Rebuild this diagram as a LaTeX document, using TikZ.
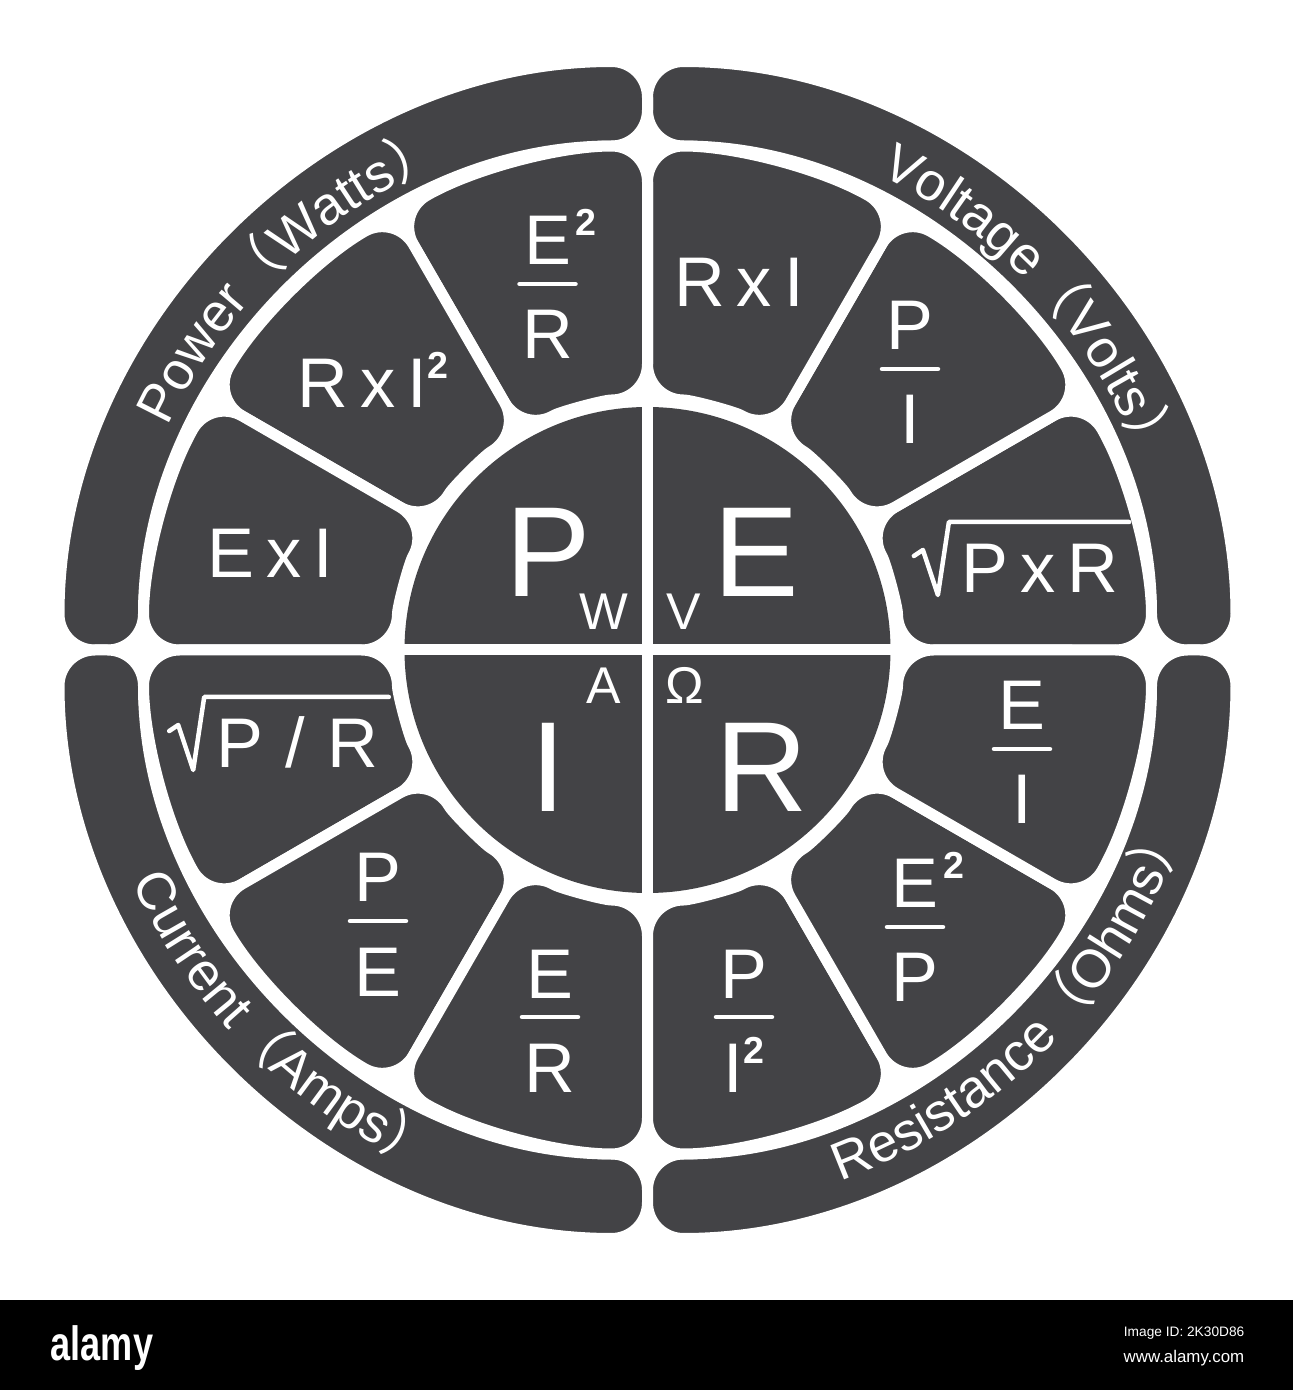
\documentclass[tikz,border=0pt]{standalone}
\usepackage{graphicx}
\usepackage{fontspec}
\setmainfont{Liberation Sans}
\newfontfamily\cjkfont{Noto Sans CJK SC}
\usepackage{tikz}
\usetikzlibrary{decorations.text}
\definecolor{wheelgray}{RGB}{67,67,70}
\tikzstyle{ringpart} = [fill=wheelgray, draw=white, line width=0.11cm, rounded corners=0.36cm]
\tikzstyle{segment} = [fill=wheelgray, draw=white, line width=0.11cm, rounded corners=0.36cm]
\tikzstyle{formula} = [text=white, inner sep=0pt, anchor=base, font=\fontsize{20}{24}\selectfont]
\tikzstyle{bigletter} = [text=white, inner sep=0pt, anchor=base, font=\fontsize{36.5}{40}\selectfont]
\tikzstyle{unit} = [text=white, inner sep=0pt, anchor=base, font=\fontsize{14.7}{17}\selectfont]
\tikzstyle{fracbar} = [white, line width=0.045cm, line cap=round]
\tikzstyle{rootline} = [white, line width=0.045cm, line join=round, line cap=round]
\newcommand{\sq}{\raisebox{0.29cm}{\fontsize{10.7}{12}\selectfont\bfseries 2}}
\newcommand{\tms}{\hspace{0.12cm}x\hspace{0.12cm}}
\newcommand{\ringfont}{\color{white}\fontsize{15.2}{17}\selectfont}
\newcommand{\ringcjk}{\color{white}\cjkfont\fontsize{15.2}{17}\selectfont}
% fraction: name, bar centre, numerator, denominator
\newcommand{\ohmfrac}[4]{%
  \coordinate (#1) at (#2);
  \node[formula] (#1-num) at ([yshift=0.19cm]#1) {#3};
  \node[formula] (#1-den) at ([yshift=-0.75cm]#1) {#4};
  \coordinate (#1-l) at ([xshift=-0.28cm]#1);
  \coordinate (#1-r) at ([xshift=0.28cm]#1);
  \draw[fracbar] (#1-l) -- (#1-r);}
% root sign over a formula node
\newcommand{\rootover}[1]{%
  \draw[rootline] ([shift={(-0.47,0.37)}]#1.base west) -- ([shift={(-0.38,0.43)}]#1.base west)
    -- ([shift={(-0.23,-0.02)}]#1.base west) -- ([shift={(-0.12,0.71)}]#1.base west)
    -- ([shift={(0.10,0.71)}]#1.base east);}

\begin{document}
\begin{tikzpicture}
	\fill[white] (0,0) rectangle (12.93,13.90);
	\useasboundingbox (0,0) rectangle (12.93,13.90);

	\begin{scope}[shift={(6.475,7.40)}]
		% outer ring
		\foreach \a/\b in {0/90,90/180,180/270,270/360}
			\filldraw[ringpart] (\a:5.04) arc[start angle=\a, end angle=\b, radius=5.04] -- (\b:5.885) arc[start angle=\b, end angle=\a, radius=5.885] -- cycle;
		% formula segments
		\foreach \a/\b in {0/30,30/60,60/90,90/120,120/150,150/180,180/210,210/240,240/270,270/300,300/330,330/360}
			\filldraw[segment] (\a:2.50) arc[start angle=\a, end angle=\b, radius=2.50] -- (\b:5.04) arc[start angle=\b, end angle=\a, radius=5.04] -- cycle;
		% centre
		\fill[wheelgray] (0,0) circle[radius=2.43];
		\coordinate (c-w) at (180:2.5);
		\coordinate (c-e) at (0:2.5);
		\coordinate (c-n) at (90:2.5);
		\coordinate (c-s) at (270:2.5);
		\draw[white, line width=0.11cm] (c-w) -- (c-e);
		\draw[white, line width=0.11cm] (c-n) -- (c-s);

		% ring labels
		\path[decorate, decoration={text along path, text align=center, text={|\ringfont|Power|\ringcjk|（|\ringfont|Watts|\ringcjk|）}}]
			(168.7:5.29) arc[start angle=168.7, end angle=98.7, radius=5.29];
		\path[decorate, decoration={text along path, text align=center, text={|\ringfont|Voltage|\ringcjk|（|\ringfont|Volts|\ringcjk|）}}]
			(77:5.29) arc[start angle=77, end angle=7, radius=5.29];
		\path[decorate, decoration={text along path, text align=center, text={|\ringfont|Current|\ringcjk|（|\ringfont|Amps|\ringcjk|）}}]
			(190.6:5.65) arc[start angle=190.6, end angle=260.6, radius=5.65];
		\path[decorate, decoration={text along path, text align=center, text={|\ringfont|Resistance|\ringcjk|（|\ringfont|Ohms|\ringcjk|）}}]
			(281:5.65) arc[start angle=281, end angle=351, radius=5.65];
	\end{scope}

	% centre letters
	\node[bigletter] (P) at (5.48,7.93) {P};
	\node[bigletter] (E) at (7.56,7.93) {E};
	\node[bigletter] (I) at (5.48,5.78) {I};
	\node[bigletter] (R) at (7.62,5.78) {R};
	\node[unit] (W) at (6.04,7.60) {W};
	\node[unit] (V) at (6.84,7.60) {V};
	\node[unit] (A) at (6.04,6.87) {A};
	\node[unit] (Ohm) at (6.85,6.87) {Ω};

	% products
	\node[formula] (rxi) at (7.39,10.83) {R\tms I};
	\node[formula] (exi) at (2.70,8.12) {E\tms I};
	\node[formula] (rxi2) at (3.73,9.82) {R\tms I\sq};
	\node[formula] (pxr) at (10.40,7.97) {P\tms R};
	\rootover{pxr}
	\node[formula] (ppr) at (2.975,6.22) {P\hspace{0.22cm}/\hspace{0.22cm}R};
	\rootover{ppr}

	% fractions
	\ohmfrac{e2r}{5.475,11.06}{E\rlap{\kern0.05cm\sq}}{R}
	\ohmfrac{pi}{9.10,10.21}{P}{I}
	\ohmfrac{ei}{10.22,6.41}{E}{I}
	\ohmfrac{pe}{3.78,4.69}{P}{E}
	\ohmfrac{er}{5.50,3.73}{E}{R}
	\ohmfrac{pi2}{7.44,3.73}{P}{I\sq}
	\ohmfrac{e2p}{9.15,4.63}{E\rlap{\kern0.05cm\sq}}{P}

	% stock bar
	\fill[black] (0,0) rectangle (12.93,0.90);
	\node[anchor=base west, text=white, inner sep=0pt, font=\fontsize{13.7}{15}\selectfont\bfseries] (logo) at (0.50,0.30) {\scalebox{0.75}[1]{alamy}};
	\node[anchor=base east, text=white, inner sep=0pt, font=\fontsize{3.9}{5}\selectfont] (imgid) at (12.45,0.53) {Image ID: 2K30D86};
	\node[anchor=base east, text=white, inner sep=0pt, font=\fontsize{4.8}{6}\selectfont] (web) at (12.45,0.28) {www.alamy.com};
\end{tikzpicture}
\end{document}
